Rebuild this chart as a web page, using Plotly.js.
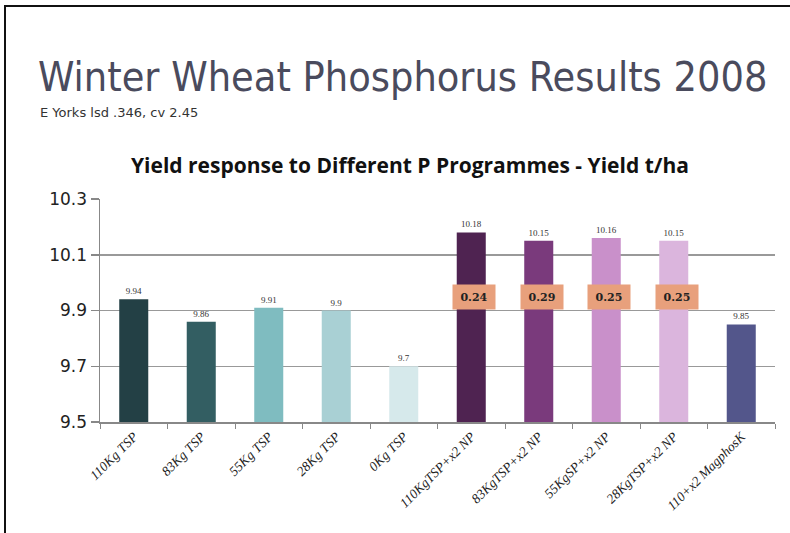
<!DOCTYPE html>
<html>
<head>
<meta charset="utf-8">
<script src="https://cdn.plot.ly/plotly-3.0.1.min.js"></script>
<style>
html,body{margin:0;padding:0;background:#fff;}
#wrap{position:relative;width:790px;height:533px;}
#chart{position:absolute;left:0;top:0;width:790px;height:533px;}
#frame{position:absolute;left:4px;top:5px;width:790px;height:540px;border-left:2px solid #111;border-top:2px solid #111;pointer-events:none;}
</style>
</head>
<body>
<div id="wrap"><div id="chart"></div><div id="frame"></div></div>
<script>
const categories = ["110Kg TSP","83Kg TSP","55Kg TSP","28Kg TSP","0Kg TSP","110KgTSP+x2 NP","83KgTSP+x2 NP","55KgSP+x2 NP","28KgTSP+x2 NP","110+x2 MagphosK"];
const yieldValues = [9.94, 9.86, 9.91, 9.9, 9.7, 10.18, 10.15, 10.16, 10.15, 9.85];
const valueLabels = ["9.94","9.86","9.91","9.9","9.7","10.18","10.15","10.16","10.15","9.85"];
const barColors = ["#234045","#335e62","#7fbcc0","#a9d0d4","#d6e9eb","#4f2351","#7a3a7c","#c990ca","#dbb5dd","#53568b"];
const responseCategories = ["110KgTSP+x2 NP","83KgTSP+x2 NP","55KgSP+x2 NP","28KgTSP+x2 NP"];
const responseLabels = ["0.24","0.29","0.25","0.25"];
const responseY = [9.95, 9.95, 9.95, 9.95];
const yTicks = [9.5, 9.7, 9.9, 10.1, 10.3];

const trace = {
  type: "bar",
  x: categories,
  y: yieldValues,
  text: valueLabels,
  textposition: "outside",
  cliponaxis: false,
  textfont: {family: "Liberation Serif, serif", size: 9, color: "#333"},
  marker: {color: barColors, line: {width: 0}},
  hoverinfo: "x+y"
};

const annotations = responseCategories.map((c, i) => ({
  x: c, y: responseY[i], xref: "x", yref: "y",
  text: "<b>" + responseLabels[i] + "</b>",
  showarrow: false, xshift: 3,
  bgcolor: "#e8a07c", width: 38, height: 20, borderpad: 2,
  font: {family: "DejaVu Serif, serif", size: 11, color: "#222"}
}));
annotations.push({
  xref: "paper", yref: "paper", x: -0.092, y: 1.386, xanchor: "left", yanchor: "middle",
  text: "E Yorks lsd .346, cv 2.45", showarrow: false,
  font: {family: "DejaVu Sans, sans-serif", size: 13, color: "#333"}
});
annotations.push({
  xref: "paper", yref: "paper", x: 0.459, y: 1.153, xanchor: "center", yanchor: "middle",
  text: "<b>Yield response to Different P Programmes - Yield t/ha</b>", showarrow: false,
  font: {family: "Open Sans, sans-serif", size: 21, color: "#111"}
});

const layout = {
  width: 790, height: 533,
  margin: {l: 100, r: 15, t: 199, b: 111},
  paper_bgcolor: "#fff", plot_bgcolor: "#fff",
  showlegend: false,
  bargap: 0.57,
  title: {
    text: "Winter Wheat Phosphorus Results 2008",
    x: 38/790, xanchor: "left", xref: "container",
    y: 1 - 77/533, yanchor: "middle", yref: "container",
    font: {family: "DejaVu Sans Condensed, DejaVu Sans, sans-serif", size: 41, color: "#4a4b5d"}
  },
  xaxis: {
    type: "category",
    tickangle: -45,
    tickson: "boundaries",
    ticks: "outside", ticklen: 5, tickcolor: "#888", tickwidth: 1,
    showline: true, linecolor: "#888", linewidth: 1.5,
    showgrid: false,
    tickfont: {family: "Liberation Serif, serif", size: 13.5, color: "#222", style: "italic"}
  },
  yaxis: {
    range: [9.5, 10.3],
    tickvals: yTicks,
    ticktext: yTicks.map(v => String(v)),
    ticks: "outside", ticklen: 8, tickcolor: "#888", tickwidth: 1.5,
    showline: true, linecolor: "#888", linewidth: 1.5,
    showgrid: true, gridcolor: "#999", gridwidth: 1.5,
    zeroline: false,
    tickfont: {family: "DejaVu Sans, sans-serif", size: 17, color: "#222"}
  },
  annotations: annotations
};

Plotly.newPlot("chart", [trace], layout, {displayModeBar: false, staticPlot: true});
</script>
</body>
</html>
